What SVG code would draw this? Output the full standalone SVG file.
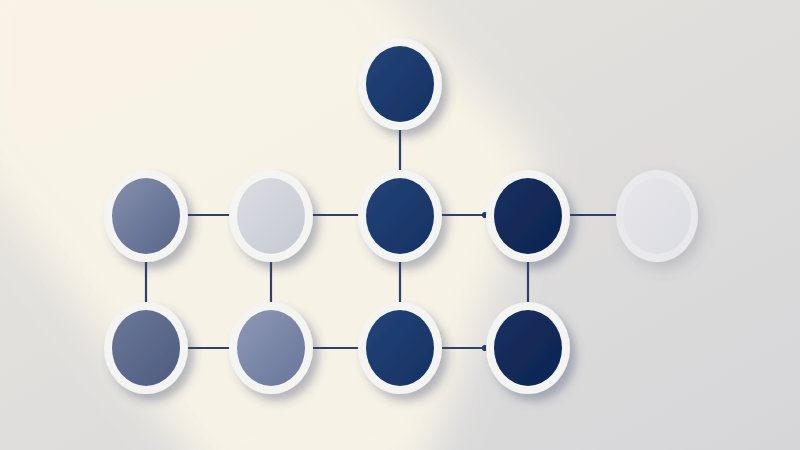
<svg xmlns="http://www.w3.org/2000/svg" width="800" height="450" viewBox="0 0 800 450">
<defs>
<linearGradient id="bg" x1="0" y1="0" x2="1" y2="1">
<stop offset="0" stop-color="#e9e6df"/>
<stop offset="1" stop-color="#d6d6d9"/>
</linearGradient>
<filter id="blur" x="-30%" y="-30%" width="160%" height="160%"><feGaussianBlur stdDeviation="20"/></filter>
<filter id="sh" x="-40%" y="-40%" width="180%" height="180%">
<feGaussianBlur in="SourceAlpha" stdDeviation="5"/>
<feOffset dx="6" dy="7" result="b"/>
<feFlood flood-color="#3a4668" flood-opacity="0.35"/>
<feComposite in2="b" operator="in"/>
<feMerge><feMergeNode/><feMergeNode in="SourceGraphic"/></feMerge>
</filter>
<filter id="shg" x="-40%" y="-40%" width="180%" height="180%">
<feGaussianBlur in="SourceAlpha" stdDeviation="7"/>
<feOffset dx="6" dy="7" result="b"/>
<feFlood flood-color="#5a6078" flood-opacity="0.22"/>
<feComposite in2="b" operator="in"/>
<feMerge><feMergeNode/><feMergeNode in="SourceGraphic"/></feMerge>
</filter>
<linearGradient id="gNavy" x1="0" y1="0" x2="1" y2="1"><stop offset="0" stop-color="#234377"/><stop offset="1" stop-color="#163263"/></linearGradient>
<linearGradient id="gDeep" x1="0" y1="0" x2="1" y2="1"><stop offset="0" stop-color="#17305f"/><stop offset="1" stop-color="#0e2553"/></linearGradient>
<linearGradient id="gMid" x1="0" y1="0" x2="1" y2="1"><stop offset="0" stop-color="#8590aa"/><stop offset="1" stop-color="#56658b"/></linearGradient>
<linearGradient id="gMid2" x1="0" y1="0" x2="1" y2="1"><stop offset="0" stop-color="#6b7898"/><stop offset="1" stop-color="#4d5b80"/></linearGradient>
<linearGradient id="gMid3" x1="0" y1="0" x2="1" y2="1"><stop offset="0" stop-color="#8e99b4"/><stop offset="1" stop-color="#67759a"/></linearGradient>
<linearGradient id="gLight" x1="0" y1="0" x2="1" y2="1"><stop offset="0" stop-color="#dcdde2"/><stop offset="1" stop-color="#c6c9d3"/></linearGradient>
<linearGradient id="gGhost" x1="0" y1="0" x2="1" y2="1"><stop offset="0" stop-color="#e6e6ea"/><stop offset="1" stop-color="#d6d7de"/></linearGradient>
<marker id="dot" markerWidth="4" markerHeight="4" refX="2" refY="2" markerUnits="strokeWidth"><circle cx="2" cy="2" r="1.4" fill="#243a66"/></marker>
</defs>
<style>
.ring{fill:#f4f4f3}
.con line{stroke:#2c416c;stroke-width:2.2;stroke-linecap:butt}
</style>
<rect width="800" height="450" fill="url(#bg)"/>
<polygon points="-40,-40 360,-40 540,160 420,480 210,480 -40,140" fill="#f9f4e7" opacity="0.95" filter="url(#blur)"/>
<g class="con" id="connectors">
<line x1="400" y1="128" x2="400" y2="170"/>
<line x1="187" y1="215" x2="231" y2="215"/>
<line x1="312" y1="215" x2="359" y2="215"/>
<line x1="441" y1="215" x2="485" y2="215" marker-end="url(#dot)"/>
<line x1="569" y1="215" x2="616" y2="215"/>
<line x1="146" y1="261" x2="146" y2="303"/>
<line x1="271" y1="261" x2="271" y2="303"/>
<line x1="400" y1="261" x2="400" y2="303"/>
<line x1="528" y1="261" x2="528" y2="303"/>
<line x1="187" y1="348" x2="231" y2="348"/>
<line x1="312" y1="348" x2="359" y2="348"/>
<line x1="441" y1="348" x2="485" y2="348" marker-end="url(#dot)"/>
</g>
<g id="n-top" filter="url(#sh)"><ellipse class="ring" cx="400" cy="84" rx="42" ry="46"/><ellipse cx="400" cy="84" rx="34" ry="38" fill="url(#gNavy)"/></g>
<g id="n-r1c1" filter="url(#sh)"><ellipse class="ring" cx="146" cy="216" rx="42" ry="46"/><ellipse cx="146" cy="216" rx="34" ry="38" fill="url(#gMid)"/></g>
<g id="n-r1c2" filter="url(#sh)"><ellipse class="ring" cx="271" cy="216" rx="42" ry="46"/><ellipse cx="271" cy="216" rx="34" ry="38" fill="url(#gLight)"/></g>
<g id="n-r1c3" filter="url(#sh)"><ellipse class="ring" cx="400" cy="216" rx="42" ry="46"/><ellipse cx="400" cy="216" rx="34" ry="38" fill="url(#gNavy)"/></g>
<g id="n-r1c4" filter="url(#sh)"><ellipse class="ring" cx="528" cy="216" rx="42" ry="46"/><ellipse cx="528" cy="216" rx="34" ry="38" fill="url(#gDeep)"/></g>
<g id="n-ghost" filter="url(#shg)"><ellipse cx="657" cy="216" rx="41" ry="46" fill="#e9e9ec"/><ellipse cx="657" cy="216" rx="34" ry="38" fill="url(#gGhost)" opacity="0.7"/></g>
<g id="n-r2c1" filter="url(#sh)"><ellipse class="ring" cx="146" cy="348" rx="42" ry="46"/><ellipse cx="146" cy="348" rx="34" ry="38" fill="url(#gMid2)"/></g>
<g id="n-r2c2" filter="url(#sh)"><ellipse class="ring" cx="271" cy="348" rx="42" ry="46"/><ellipse cx="271" cy="348" rx="34" ry="38" fill="url(#gMid3)"/></g>
<g id="n-r2c3" filter="url(#sh)"><ellipse class="ring" cx="400" cy="348" rx="42" ry="46"/><ellipse cx="400" cy="348" rx="34" ry="38" fill="url(#gNavy)"/></g>
<g id="n-r2c4" filter="url(#sh)"><ellipse class="ring" cx="528" cy="348" rx="42" ry="46"/><ellipse cx="528" cy="348" rx="34" ry="38" fill="url(#gDeep)"/></g>
</svg>
